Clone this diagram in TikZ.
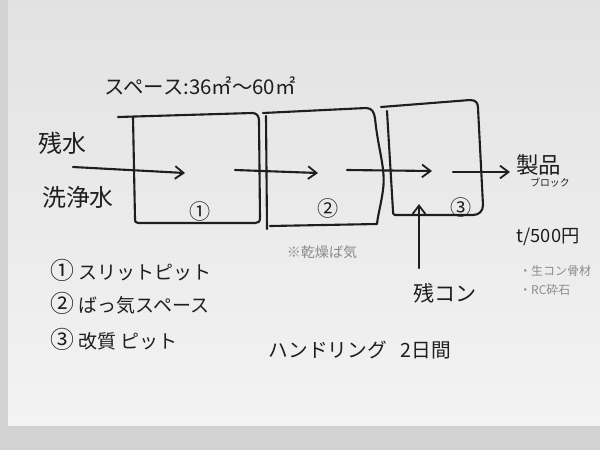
\documentclass[tikz,border=0pt]{standalone}
\usepackage{fontspec}
\setmainfont{Noto Sans CJK JP}
\usetikzlibrary{arrows.meta}
\definecolor{ink}{HTML}{1E1E1E}
\definecolor{pencil}{HTML}{8A8A8A}
\definecolor{bgray}{HTML}{D2D2D2}
\definecolor{papertop}{HTML}{E2E2E2}
\definecolor{paperbot}{HTML}{F3F3F3}
\newcommand{\bignum}[1]{{\fontsize{17}{17}\selectfont #1}}
\begin{document}
\begin{tikzpicture}[x=0.025cm,y=-0.025cm,
  pen/.style={line width=1.5pt,draw=ink,line cap=round,line join=round},
  flow/.style={pen,-{Straight Barb[length=6pt,width=9pt,line width=1.3pt]}},
  lbl/.style={inner sep=0pt,text=ink},
  note/.style={inner sep=0pt,text=pencil},
  fs/.style={font=\fontsize{#1}{#1}\selectfont}]
\useasboundingbox (0,0) rectangle (600,450);
\fill[bgray] (0,0) rectangle (600,450);
\shade[top color=papertop,bottom color=paperbot] (8,0) rectangle (600,425);

% boxes (hand-drawn outlines)
\draw[pen] (118,117) -- (252,113) .. controls (257,113) and (259,116) .. (259,121)
  -- (260,218) .. controls (260,222) and (258,223) .. (255,223) -- (138,223)
  .. controls (135,223) and (135,221) .. (135,219) -- (133,117);
\draw[pen] (263,113) -- (366,108) .. controls (372,108) and (374,112) .. (375,118)
  .. controls (378,150) and (386,168) .. (383,190)
  .. controls (381,205) and (378,214) .. (377,224) -- (270,226);
\draw[pen] (266,116) -- (267,229);
\draw[pen] (381,107) -- (470,100) .. controls (476,100) and (478,103) .. (478,108)
  -- (483,205) .. controls (483,211) and (479,215) .. (473,215) -- (395,215)
  .. controls (393,215) and (393,213) .. (393,211) -- (387,111);

% connectors
\coordinate (a1s) at (73,167);  \coordinate (a1e) at (185,173);
\coordinate (a2s) at (235,170); \coordinate (a2e) at (318,173);
\coordinate (a3s) at (347,170); \coordinate (a3e) at (432,171);
\coordinate (a4s) at (453,172); \coordinate (a4e) at (510,172);
\coordinate (a5s) at (419,268); \coordinate (a5e) at (419,204);
\draw[flow] (a1s) -- (a1e);
\draw[flow] (a2s) -- (a2e);
\draw[flow] (a3s) -- (a3e);
\draw[flow] (a4s) -- (a4e);
\draw[flow] (a5s) -- (a5e);

% box numbers
\node[lbl,fs=15] (n1) at (200,211) {①};
\node[lbl,fs=15] (n2) at (328,208) {②};
\node[lbl,fs=15] (n3) at (461,207) {③};

% texts
\node[lbl,fs=14.5] (space) at (200,86) {スペース:36㎡～60㎡};
\node[lbl,fs=17] (zansui) at (62,143) {残水};
\node[lbl,fs=17] (senjo) at (78,197) {洗浄水};
\node[lbl,fs=13.5,anchor=west] (l1) at (50,270) {\bignum{①} スリットピット};
\node[lbl,fs=13.5,anchor=west] (l2) at (50,303) {\bignum{②} ばっ気スペース};
\node[lbl,fs=13.5,anchor=west] (l3) at (50,339) {\bignum{③} 改質 ピット};
\node[note,fs=10] (kanso) at (322,252) {※乾燥ば気};
\node[lbl,fs=14] (handling) at (360,350) {ハンドリング\hspace{0.7em}2日間};
\node[lbl,fs=15] (zancon) at (445,293) {残コン};
\node[lbl,fs=16,anchor=west] (seihin) at (516,165) {製品};
\node[lbl,fs=7,anchor=west] (block) at (530,183) {ブロック};
\node[lbl,fs=13] (price) at (548,237) {t/500円};
\node[note,fs=8.5,anchor=west] (m1) at (519,271) {・生コン骨材};
\node[note,fs=8.5,anchor=west] (m2) at (519,290) {・RC砕石};
\end{tikzpicture}
\end{document}
